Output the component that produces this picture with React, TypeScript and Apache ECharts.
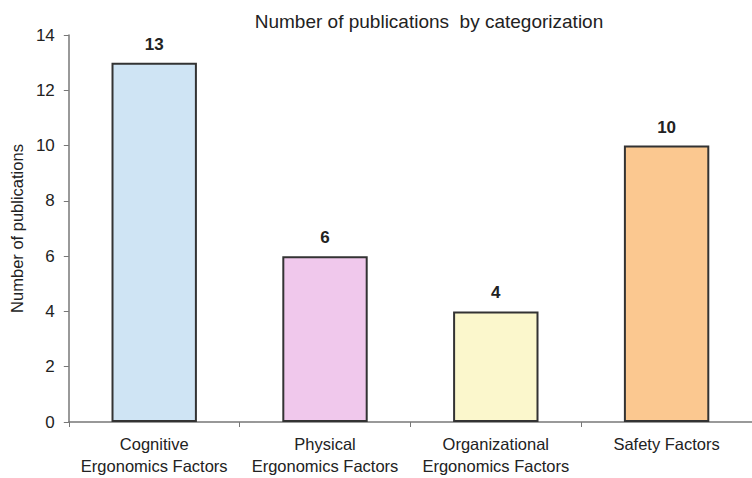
import React, { useEffect, useRef } from "react";
import * as echarts from "echarts";

const categories = [
  "Cognitive\nErgonomics Factors",
  "Physical\nErgonomics Factors",
  "Organizational\nErgonomics Factors",
  "Safety Factors",
];
const values = [13, 6, 4, 10];
const barColors = ["#cfe4f4", "#f0c8ec", "#fbf7cc", "#fbc890"];

export default function App() {
  const ref = useRef<HTMLDivElement>(null);
  useEffect(() => {
    if (!ref.current) return;
    const chart = echarts.init(ref.current, undefined, { renderer: "svg" });
    const font = "'Liberation Sans', Arial, sans-serif";
    chart.setOption({
      animation: false,
      backgroundColor: "#ffffff",
      title: {
        text: "Number of publications  by categorization",
        left: 424,
        textAlign: "center",
        top: 7,
        textStyle: { fontFamily: font, fontSize: 19, fontWeight: "normal", color: "#222" },
      },
      grid: { left: 68, top: 35, width: 691, height: 387, containLabel: false },
      xAxis: {
        type: "category",
        data: categories,
        axisLine: { lineStyle: { color: "#777", width: 1.5 } },
        axisTick: { show: true, length: 5, lineStyle: { color: "#777" } },
        axisLabel: {
          fontFamily: font,
          fontSize: 16.5,
          color: "#222",
          margin: 11,
          lineHeight: 22,
          interval: 0,
        },
      },
      yAxis: {
        type: "value",
        min: 0,
        max: 14,
        interval: 2,
        name: "Number of publications",
        nameLocation: "middle",
        nameGap: 36,
        nameTextStyle: { fontFamily: font, fontSize: 16.5, color: "#222" },
        splitLine: { show: false },
        axisLine: { show: true, lineStyle: { color: "#777", width: 1.5 } },
        axisTick: { show: true, length: 5, lineStyle: { color: "#777" } },
        axisLabel: { fontFamily: font, fontSize: 17, color: "#222", margin: 14 },
      },
      series: [
        {
          type: "bar",
          barWidth: "50%",
          data: values.map((v, i) => ({
            value: v,
            itemStyle: { color: barColors[i], borderColor: "#333", borderWidth: 2 },
          })),
          label: {
            show: true,
            position: "top",
            distance: 10,
            fontFamily: font,
            fontSize: 17,
            fontWeight: "bold",
            color: "#222",
          },
        },
      ],
    });
    return () => chart.dispose();
  }, []);
  return <div ref={ref} style={{ width: 752, height: 478, position: "absolute", left: 0, top: 0 }} />;
}
